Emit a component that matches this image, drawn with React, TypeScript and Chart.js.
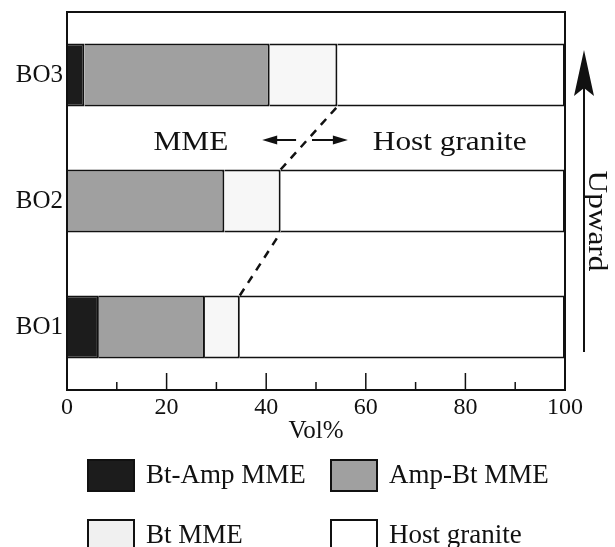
import React, { useEffect, useRef } from "react";
import { Chart, registerables } from "chart.js";

Chart.register(...registerables);

const categories = ["BO3", "BO2", "BO1"];
const seriesNames = ["Bt-Amp MME", "Amp-Bt MME", "Bt MME", "Host granite"];
const btAmp = [3.5, 0, 6.4];
const ampBt = [37.2, 31.6, 21.3];
const btMME = [13.6, 11.3, 7.0];
const hostGranite = [45.7, 57.1, 65.3];
const xTicks = [0, 20, 40, 60, 80, 100];
const xMinorTicks = [10, 30, 50, 70, 90];
const xTitle = "Vol%";
const leftNote = "MME";
const rightNote = "Host granite";
const sideNote = "Upward";

const SERIF = '"Liberation Serif", "Times New Roman", serif';
const INK = "#111111";
const fills = ["#1c1c1c", "#a0a0a0", "#f7f7f7", "#ffffff"];
const legendFills = ["#1c1c1c", "#a0a0a0", "#f0f0f0", "#ffffff"];

function stretchedText(ctx: CanvasRenderingContext2D, text: string, x: number, y: number, align: CanvasTextAlign, sx: number) {
  ctx.save();
  ctx.translate(x, y);
  ctx.scale(sx, 1);
  ctx.textAlign = align;
  ctx.fillText(text, 0, 0);
  ctx.restore();
}

const decorPlugin = {
  id: "decor",
  afterDatasetsDraw(chart: any) {
    const ctx: CanvasRenderingContext2D = chart.ctx;
    const area = chart.chartArea;
    const xs = chart.scales.x;
    const ys = chart.scales.y;
    ctx.save();
    // frame
    ctx.strokeStyle = INK;
    ctx.lineWidth = 2;
    ctx.strokeRect(area.left, area.top, area.right - area.left, area.bottom - area.top);
    // inward ticks
    ctx.lineWidth = 1.5;
    xTicks.forEach((v) => {
      const px = xs.getPixelForValue(v);
      ctx.beginPath();
      ctx.moveTo(px, area.bottom);
      ctx.lineTo(px, area.bottom - 17);
      ctx.stroke();
    });
    xMinorTicks.forEach((v) => {
      const px = xs.getPixelForValue(v);
      ctx.beginPath();
      ctx.moveTo(px, area.bottom);
      ctx.lineTo(px, area.bottom - 8);
      ctx.stroke();
    });
    // dashed connector along Bt MME boundary
    const meta = chart.getDatasetMeta(2);
    const els = meta.data;
    ctx.setLineDash([8, 7]);
    ctx.lineWidth = 2.5;
    for (let i = els.length - 1; i > 0; i--) {
      const lower = els[i];
      const upper = els[i - 1];
      ctx.beginPath();
      ctx.moveTo(lower.x, lower.y - lower.height / 2);
      ctx.lineTo(upper.x, upper.y + upper.height / 2);
      ctx.stroke();
    }
    ctx.setLineDash([]);
    // arrows between MME / Host granite
    const midY = ys.getPixelForValue(0.5) + 2;
    const drawArrow = (fromV: number, toV: number) => {
      const x0 = xs.getPixelForValue(fromV);
      const x1 = xs.getPixelForValue(toV);
      const dir = Math.sign(x1 - x0);
      ctx.lineWidth = 2;
      ctx.beginPath();
      ctx.moveTo(x0, midY);
      ctx.lineTo(x1 - dir * 10, midY);
      ctx.stroke();
      ctx.beginPath();
      ctx.moveTo(x1, midY);
      ctx.lineTo(x1 - dir * 15, midY - 4.5);
      ctx.lineTo(x1 - dir * 15, midY + 4.5);
      ctx.closePath();
      ctx.fillStyle = INK;
      ctx.fill();
    };
    drawArrow(46, 39.2);
    drawArrow(49.2, 56.4);
    ctx.fillStyle = INK;
    ctx.font = `27px ${SERIF}`;
    ctx.textBaseline = "alphabetic";
    stretchedText(ctx, leftNote, xs.getPixelForValue(32.4), midY + 10, "right", 1.16);
    stretchedText(ctx, rightNote, xs.getPixelForValue(61.4), midY + 10, "left", 1.16);
    // Upward arrow
    const ax = area.right + 19;
    const tipY = area.top + 38;
    ctx.lineWidth = 2;
    ctx.beginPath();
    ctx.moveTo(ax, area.bottom - 38);
    ctx.lineTo(ax, tipY + 30);
    ctx.stroke();
    ctx.beginPath();
    ctx.moveTo(ax, tipY);
    ctx.lineTo(ax - 10, tipY + 46);
    ctx.lineTo(ax, tipY + 38);
    ctx.lineTo(ax + 10, tipY + 46);
    ctx.closePath();
    ctx.fill();
    ctx.save();
    ctx.translate(ax + 12, (area.top + area.bottom) / 2 + 20);
    ctx.rotate(Math.PI / 2);
    ctx.scale(1.16, 1);
    ctx.textAlign = "center";
    ctx.textBaseline = "middle";
    ctx.fillText(sideNote, 0, 0);
    ctx.restore();
    // x title
    ctx.font = `25px ${SERIF}`;
    ctx.textAlign = "center";
    ctx.textBaseline = "alphabetic";
    ctx.fillText(xTitle, (area.left + area.right) / 2, area.bottom + 48);
    // legend
    const colX = [87, 330];
    const rowY = [459, 519];
    ctx.font = `27px ${SERIF}`;
    ctx.textAlign = "left";
    ctx.textBaseline = "middle";
    seriesNames.forEach((name, i) => {
      const bx = colX[i % 2];
      const by = rowY[Math.floor(i / 2)];
      ctx.fillStyle = legendFills[i];
      ctx.fillRect(bx, by, 48, 33);
      ctx.strokeStyle = INK;
      ctx.lineWidth = 2;
      ctx.strokeRect(bx + 1, by + 1, 46, 31);
      ctx.fillStyle = INK;
      ctx.fillText(name, bx + 59, by + 17);
    });
    ctx.restore();
  },
};

export default function App() {
  const ref = useRef<HTMLCanvasElement | null>(null);
  useEffect(() => {
    if (!ref.current) return;
    const series = [btAmp, ampBt, btMME, hostGranite];
    const chart = new Chart(ref.current, {
      type: "bar",
      data: {
        labels: categories,
        datasets: series.map((vals, i) => ({
          label: seriesNames[i],
          data: vals,
          backgroundColor: fills[i],
          borderColor: INK,
          borderWidth: { top: 2, bottom: 2, left: 0, right: 2 },
          borderSkipped: false,
          barPercentage: 1,
          categoryPercentage: 0.5,
        })),
      },
      options: {
        indexAxis: "y",
        animation: false,
        responsive: false,
        layout: { padding: { top: 12, right: 50, left: 0, bottom: 0 } },
        plugins: { legend: { display: false }, tooltip: { enabled: false }, title: { display: false } },
        scales: {
          x: {
            type: "linear",
            stacked: true,
            min: 0,
            max: 100,
            grid: { display: false, drawTicks: false },
            border: { display: false },
            ticks: { stepSize: 20, padding: 3, color: INK, font: { family: SERIF, size: 24 }, maxRotation: 0 },
            afterFit: (s: any) => { s.height = 157; s.paddingLeft = 0; s.paddingRight = 0; },
          },
          y: {
            type: "category",
            stacked: true,
            grid: { display: false, drawTicks: false },
            border: { display: false },
            ticks: { padding: 4, color: INK, font: { family: SERIF, size: 25 } },
            afterFit: (s: any) => { s.width = 67; s.paddingTop = 0; s.paddingBottom = 0; },
          },
        },
      } as any,
      plugins: [decorPlugin],
    });
    return () => chart.destroy();
  }, []);
  return (
    <div style={{ position: "absolute", left: 0, top: 0, width: 615, height: 547, background: "#fff" }}>
      <canvas ref={ref} width={615} height={547} style={{ display: "block", width: 615, height: 547 }} />
    </div>
  );
}
